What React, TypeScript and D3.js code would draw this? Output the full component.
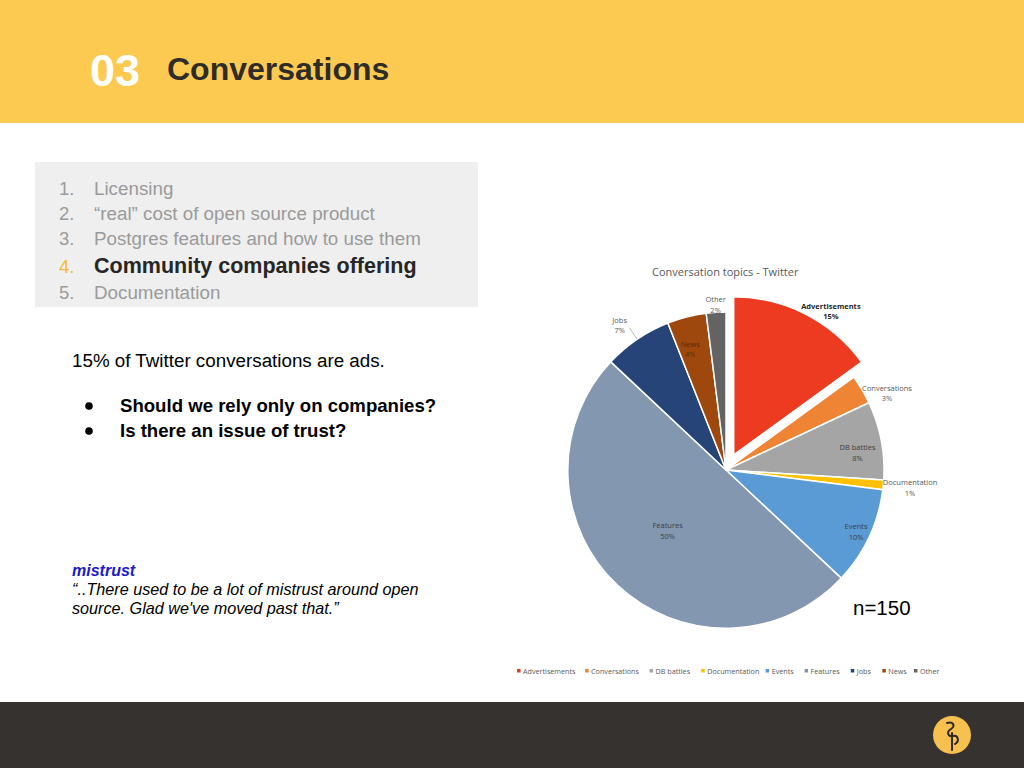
import React from 'react'
import * as d3 from 'd3'

// data
const topics = ['Advertisements', 'Conversations', 'DB battles', 'Documentation', 'Events', 'Features', 'Jobs', 'News', 'Other']
const shares = [15, 3, 8, 1, 10, 50, 7, 4, 2]
const sliceColors = ['#ED3B21', '#EE8434', '#A5A5A5', '#FFC000', '#5B9BD5', '#8497B0', '#264478', '#9E480E', '#636363']
const agenda = ['Licensing', '“real” cost of open source product', 'Postgres features and how to use them', 'Community companies offering', 'Documentation']
const questions = ['Should we rely only on companies?', 'Is there an issue of trust?']

// label placement (radius factor, angle nudge in degrees)
const labelR = [1.1, 1.13, 0.84, 1.17, 0.91, 0.53, 1.14, 0.8, 1.05]
const labelNudge = [7, 5, 3, 0, 0, 1, -2, -2, 0]
const labelInside = [false, false, true, false, true, true, false, true, false]

const W = 1024
const H = 768
const cx = 726
const cy = 470
const R = 158
const explode = 17

const App = () => {
	const arcs = d3.pie<number>().sort(null).startAngle(0)(shares)
	const arc = d3.arc<d3.PieArcDatum<number>>().innerRadius(0).outerRadius(R)
	const polar = (a: number, r: number) => [Math.sin(a) * r, -Math.cos(a) * r]

	const legendX: number[] = []
	let lx = 517
	topics.forEach((t) => {
		legendX.push(lx)
		const w = t.split('').reduce((s, ch) => s + (ch === ' ' ? 1.8 : 3.65), 0)
		lx += w + 17
	})

	const sans = 'Liberation Sans, Arial, sans-serif'
	const chartFont = 'Open Sans, sans-serif'

	return (
		<svg width={W} height={H} style={{ position: 'absolute', left: 0, top: 0, background: '#fff' }}>
			{/* header */}
			<rect x={0} y={0} width={W} height={123} fill="#FDCA51" />
			<text x={90} y={86} fontFamily={sans} fontWeight="bold" fontSize={45} fill="#fff">03</text>
			<text x={167} y={80} fontFamily={sans} fontWeight="bold" fontSize={32} fill="#2f2b26">Conversations</text>

			{/* agenda box */}
			<rect x={35} y={162} width={443} height={145} fill="#EFEFEF" />
			{agenda.map((item, i) => {
				const active = i === 3
				const y = [195, 220, 245, 273, 299][i]
				return (
					<g key={item}>
						<text x={59} y={y} fontFamily={sans} fontSize={18.5} fill={active ? '#F5B935' : '#9a9a9a'}>{i + 1}.</text>
						<text x={94} y={y} fontFamily={sans} fontSize={active ? 21.5 : 18.8} fontWeight={active ? 'bold' : 'normal'} fill={active ? '#262626' : '#9a9a9a'}>{item}</text>
					</g>
				)
			})}

			{/* notes */}
			<text x={72} y={367} fontFamily={sans} fontSize={18.8} fill="#000">15% of Twitter conversations are ads.</text>
			{questions.map((q, i) => (
				<g key={q}>
					<circle cx={89} cy={406 + i * 25} r={3.8} fill="#000" />
					<text x={120} y={412 + i * 25} fontFamily={sans} fontWeight="bold" fontSize={18.6} fill="#000">{q}</text>
				</g>
			))}
			<text x={72} y={576} fontFamily={sans} fontWeight="bold" fontStyle="italic" fontSize={16} fill="#1a1acc">mistrust</text>
			<text x={72} y={595} fontFamily={sans} fontStyle="italic" fontSize={16.2} fill="#000">“..There used to be a lot of mistrust around open</text>
			<text x={72} y={614} fontFamily={sans} fontStyle="italic" fontSize={16.2} fill="#000">source. Glad we've moved past that.”</text>

			{/* chart */}
			<text x={652} y={276} fontFamily={chartFont} fontSize={11} fill="#595959">Conversation topics - Twitter</text>
			<g transform={`translate(${cx},${cy})`}>
				{arcs.map((a, i) => {
					const mid = (a.startAngle + a.endAngle) / 2
					const off = i === 0 ? polar(mid, explode) : [0, 0]
					return (
						<path key={topics[i]} d={arc(a) || ''} transform={`translate(${off[0]},${off[1]})`} fill={sliceColors[i]} stroke="#fff" strokeWidth={1.5} strokeLinejoin="round" />
					)
				})}
				{/* Jobs leader line */}
				{(() => {
					const a = arcs[6]
					const mid = (a.startAngle + a.endAngle) / 2
					const p1 = polar(mid, R * 1.085)
					const p2 = polar(mid, R * 1.0)
					return <line x1={p1[0]} y1={p1[1]} x2={p2[0]} y2={p2[1]} stroke="#a6a6a6" strokeWidth={0.8} />
				})()}
				{arcs.map((a, i) => {
					const mid = (a.startAngle + a.endAngle) / 2 + (labelNudge[i] * Math.PI) / 180
					const base = i === 0 ? polar((a.startAngle + a.endAngle) / 2, explode) : [0, 0]
					const p = polar(mid, R * labelR[i])
					const x = base[0] + p[0]
					const y = base[1] + p[1]
					const col = i === 0 ? '#262626' : i === 7 ? '#5a2a08' : labelInside[i] ? '#404040' : '#595959'
					return (
						<text key={topics[i]} x={x} y={y} textAnchor="middle" fontFamily={chartFont} fontSize={7.5} fontWeight={i === 0 ? 'bold' : 'normal'} fill={col}>
							<tspan x={x} dy={-2}>{topics[i]}</tspan>
							<tspan x={x} dy={10.5}>{shares[i]}%</tspan>
						</text>
					)
				})}
			</g>
			<text x={853} y={615} fontFamily={sans} fontSize={20.5} fill="#000">n=150</text>

			{/* legend */}
			{topics.map((t, i) => (
				<g key={t}>
					<rect x={legendX[i]} y={669} width={3.5} height={3.5} fill={sliceColors[i]} />
					<text x={legendX[i] + 6} y={673.5} fontFamily={chartFont} fontSize={7.2} fill="#595959">{t}</text>
				</g>
			))}

			{/* footer */}
			<rect x={0} y={702} width={W} height={66} fill="#353230" />
			<circle cx={952} cy={735} r={19} fill="#F8C04F" />
			<path d="M947,723 C953,721 956,726 951,729 C946,732 948,737 953,736 C958,735 960,741 955,744 M952,733 L952,750" fill="none" stroke="#2c2926" strokeWidth={2} strokeLinecap="round" />
		</svg>
	)
}

export default App
